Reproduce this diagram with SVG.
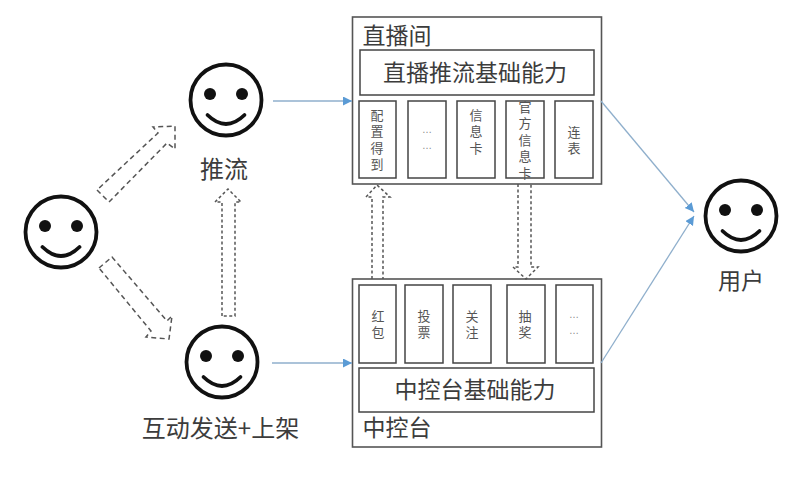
<svg xmlns="http://www.w3.org/2000/svg" width="809" height="488" viewBox="0 0 809 488">
  <style>
    text { font-family: "Noto Sans CJK SC", "Liberation Sans", sans-serif; fill: #3c3c3c; text-anchor: middle; }
    .lg { font-size: 23px; }
    .wide { font-size: 24px; }
    .sm { font-size: 13px; fill: #555; writing-mode: vertical-rl; text-anchor: start; letter-spacing: 3.5px; }
    .dots { font-size: 10px; fill: #888; font-family: "Liberation Sans", sans-serif; }
    .panel { fill: #fff; stroke: #555; stroke-width: 1.6; }
    .cell { fill: #fff; stroke: #444; stroke-width: 1.5; }
    .face { fill: #fff; stroke: #111; stroke-width: 3.8; }
    .smile { fill: none; stroke: #111; stroke-width: 3.8; stroke-linecap: round; }
    .eye { fill: #111; }
    .flow { fill: none; stroke: #8fafcc; stroke-width: 1.3; marker-end: url(#head); }
    .block { fill: none; stroke: #555; stroke-width: 1.5; stroke-dasharray: 5 3.5; }
    .fine { stroke-dasharray: 3 2.5; }
  </style>
  <defs>
    <marker id="head" markerUnits="userSpaceOnUse" markerWidth="10" markerHeight="10" refX="9" refY="4.5" orient="auto">
      <path d="M0 0L9 4.5L0 9Z" fill="#5b9bd5"/>
    </marker>
    <g id="smiley">
      <circle class="face" r="35.5"/>
      <circle class="eye" cx="-16" cy="-6" r="6"/>
      <circle class="eye" cx="16" cy="-6" r="6"/>
      <path class="smile" d="M-18.5 15Q0 33 18.5 15"/>
    </g>
  </defs>

  <g id="room">
    <rect class="panel" x="352.5" y="17" width="249" height="167"/>
    <text class="lg" x="397" y="44">直播间</text>
    <rect class="cell" x="360" y="50" width="234" height="45"/>
    <text class="lg" x="475" y="81">直播推流基础能力</text>
    <rect class="cell" x="359" y="101" width="37" height="77"/>
    <text class="sm" x="377" y="108.500">配置得到</text>
    <rect class="cell" x="408" y="101" width="38" height="77"/>
    <text class="dots" x="427" y="133">…</text>
    <text class="dots" x="427" y="149">…</text>
    <rect class="cell" x="457" y="101" width="38" height="77"/>
    <text class="sm" x="476" y="108.500">信息卡</text>
    <rect class="cell" x="506" y="101" width="38" height="77"/>
    <text class="sm" x="525" y="100.500">官方信息卡</text>
    <rect class="cell" x="555" y="101" width="38" height="77"/>
    <text class="sm" x="574" y="125.500">连表</text>
  </g>

  <g id="console">
    <rect class="panel" x="352.5" y="279" width="249" height="168"/>
    <rect class="cell" x="359" y="285" width="37" height="78"/>
    <text class="sm" x="378" y="309.500">红包</text>
    <rect class="cell" x="405" y="285" width="38" height="78"/>
    <text class="sm" x="424" y="309.500">投票</text>
    <rect class="cell" x="453" y="285" width="38" height="78"/>
    <text class="sm" x="472" y="309.500">关注</text>
    <rect class="cell" x="507" y="285" width="38" height="78"/>
    <text class="sm" x="525" y="309.500">抽奖</text>
    <rect class="cell" x="556" y="285" width="37" height="78"/>
    <text class="dots" x="574" y="318">…</text>
    <text class="dots" x="574" y="334">…</text>
    <rect class="cell" x="359" y="368" width="235" height="44"/>
    <text class="lg" x="475" y="398">中控台基础能力</text>
    <text class="lg" x="397" y="436">中控台</text>
  </g>

  <g id="anchor">
    <use href="#smiley" x="61" y="232"/>
  </g>
  <g id="push">
    <use href="#smiley" x="226" y="100"/>
    <text class="wide" x="224" y="178">推流</text>
  </g>
  <g id="interact">
    <use href="#smiley" x="222" y="362"/>
    <text class="wide" x="220.500" y="437">互动发送+上架</text>
  </g>
  <g id="viewer">
    <use href="#smiley" x="741" y="216"/>
    <text class="lg" x="741" y="289">用户</text>
  </g>

  <g id="connectors">
    <path class="flow" d="M273 101H352"/>
    <path class="flow" d="M272 363H352"/>
    <path class="flow" d="M601 101L694 212"/>
    <path class="flow" d="M601 363L694 216"/>
    <path class="block" d="M97 190L109 202L167 143L175 149L175 126L153 127L158 133Z"/>
    <path class="block" d="M99 268L112 257L167 321L172 316L169 339L146 337L151 331Z"/>
    <path class="block fine" d="M222 316V202H215L228 189L241 202H235V316Z"/>
    <path class="block fine" d="M372 279V197H366L377 185L390 197H383V279"/>
    <path class="block fine" d="M518 184V267H513L526 279L538 267H531V184"/>
  </g>
</svg>
